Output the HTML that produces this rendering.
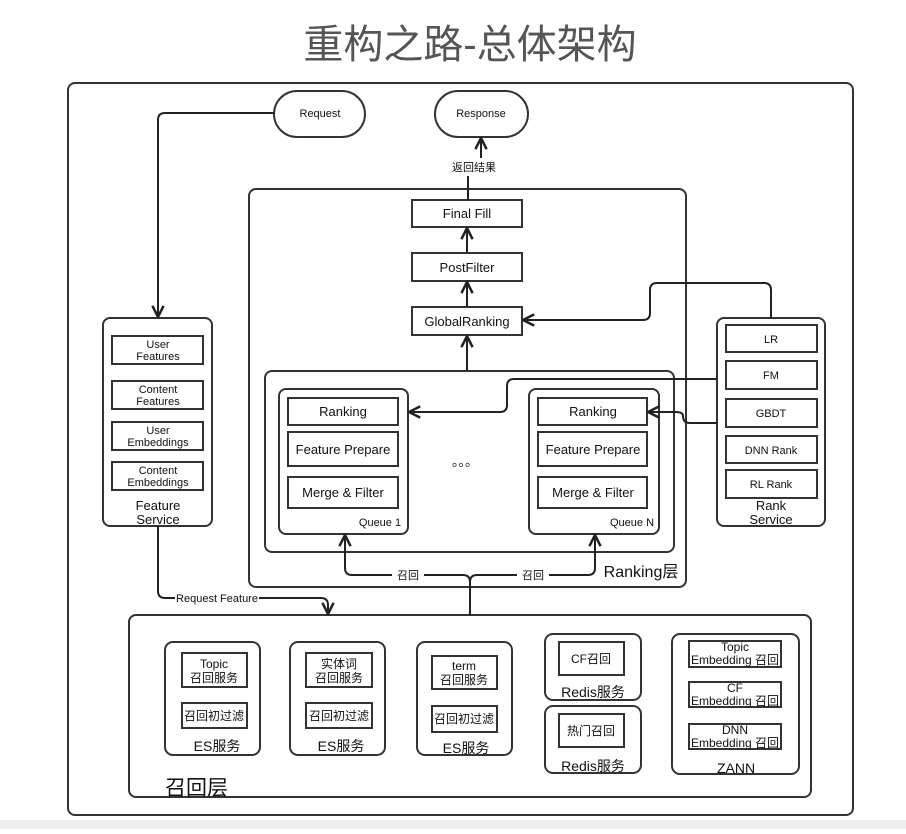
<!DOCTYPE html>
<html><head><meta charset="utf-8"><style>
html,body{margin:0;padding:0;background:#fff;}
svg text{font-family:"Liberation Sans","Noto Sans CJK SC",sans-serif;fill:#111;}
</style></head><body>
<svg width="906" height="829" viewBox="0 0 906 829" xmlns="http://www.w3.org/2000/svg">
<defs>
<marker id="a" viewBox="0 0 10 10" refX="9" refY="5" markerWidth="7" markerHeight="7" orient="auto-start-reverse"><path d="M1,1 L9,5 L1,9" fill="none" stroke="#222" stroke-width="1.8"/></marker>
</defs>
<rect x="0" y="820" width="906" height="9" fill="#eeeeee"/>
<text x="470" y="58" font-size="40" text-anchor="middle" style="fill:#555">重构之路-总体架构</text>
<g fill="none" stroke="#333" stroke-width="2">
<rect x="68" y="83" width="785" height="732" rx="7"/>
<rect x="274" y="91" width="91" height="46" rx="23"/>
<rect x="435" y="91" width="93" height="46" rx="23"/>
<rect x="249" y="189" width="437" height="398" rx="7"/>
<rect x="412" y="200" width="110" height="27"/>
<rect x="412" y="253" width="110" height="28"/>
<rect x="412" y="307" width="110" height="28"/>
<rect x="265" y="371" width="409" height="181" rx="7"/>
<rect x="279" y="389" width="129" height="145" rx="7"/>
<rect x="288" y="398" width="110" height="27"/>
<rect x="288" y="432" width="110" height="34"/>
<rect x="288" y="477" width="110" height="31"/>
<rect x="529" y="389" width="130" height="145" rx="7"/>
<rect x="538" y="398" width="109" height="27"/>
<rect x="538" y="432" width="109" height="34"/>
<rect x="538" y="477" width="109" height="31"/>
<rect x="103" y="318" width="109" height="208" rx="7"/>
<rect x="112" y="336" width="91" height="28"/>
<rect x="112" y="381" width="91" height="28"/>
<rect x="112" y="422" width="91" height="28"/>
<rect x="112" y="462" width="91" height="28"/>
<rect x="717" y="318" width="108" height="208" rx="7"/>
<rect x="726" y="325" width="91" height="27"/>
<rect x="726" y="361" width="91" height="28"/>
<rect x="726" y="399" width="91" height="28"/>
<rect x="726" y="436" width="91" height="27"/>
<rect x="726" y="470" width="91" height="28"/>
<rect x="129" y="615" width="682" height="182" rx="7"/>
<rect x="165" y="642" width="95" height="113" rx="8"/>
<rect x="182" y="653" width="65" height="34"/>
<rect x="182" y="703" width="65" height="25"/>
<rect x="290" y="642" width="95" height="113" rx="8"/>
<rect x="306" y="653" width="66" height="34"/>
<rect x="306" y="703" width="66" height="25"/>
<rect x="417" y="642" width="95" height="113" rx="8"/>
<rect x="432" y="656" width="65" height="33"/>
<rect x="432" y="706" width="65" height="26"/>
<rect x="545" y="634" width="96" height="66" rx="8"/>
<rect x="559" y="642" width="65" height="33"/>
<rect x="545" y="706" width="96" height="67" rx="8"/>
<rect x="559" y="714" width="65" height="33"/>
<rect x="672" y="634" width="127" height="140" rx="8"/>
<rect x="689" y="641" width="92" height="26"/>
<rect x="689" y="682" width="92" height="25"/>
<rect x="689" y="724" width="92" height="25"/>
</g>
<g fill="none" stroke="#222" stroke-width="2">
<path d="M274,113 H165 Q158,113 158,120 V317" marker-end="url(#a)"/>
<path d="M468,200 V176"/>
<path d="M481,158 V138" marker-end="url(#a)"/>
<path d="M467,253 V228" marker-end="url(#a)"/>
<path d="M467,307 V282" marker-end="url(#a)"/>
<path d="M467,371 V336" marker-end="url(#a)"/>
<path d="M771,318 V290 Q771,283 764,283 H657 Q650,283 650,290 V313 Q650,320 643,320 H523" marker-end="url(#a)"/>
<path d="M717,379 H514 Q507,379 507,386 V405 Q507,412 500,412 H409" marker-end="url(#a)"/>
<path d="M717,423 H690 Q683,423 683,416 Q683,412 676,412 H648" marker-end="url(#a)"/>
<path d="M470,615 V582 Q470,575 463,575 H352 Q345,575 345,568 V535" marker-end="url(#a)"/>
<path d="M470,582 Q470,575 477,575 H588 Q595,575 595,568 V535" marker-end="url(#a)"/>
<path d="M158,526 V591 Q158,598 165,598 H321 Q328,598 328,605 V614" marker-end="url(#a)"/>
</g>
<rect x="392" y="568" width="32" height="14" fill="#fff"/>
<rect x="517" y="568" width="32" height="14" fill="#fff"/>
<rect x="175" y="592" width="84" height="12" fill="#fff"/>
<g font-size="11" text-anchor="middle">
<text x="320" y="117">Request</text>
<text x="481" y="117">Response</text>
<text x="474" y="171">返回结果</text>
<text x="408" y="579">召回</text>
<text x="533" y="579">召回</text>
<text x="217" y="602">Request Feature</text>
<text x="158" y="348">User</text><text x="158" y="360">Features</text>
<text x="158" y="393">Content</text><text x="158" y="405">Features</text>
<text x="158" y="434">User</text><text x="158" y="446">Embeddings</text>
<text x="158" y="474">Content</text><text x="158" y="486">Embeddings</text>
<text x="771" y="343">LR</text>
<text x="771" y="379">FM</text>
<text x="771" y="417">GBDT</text>
<text x="771" y="454">DNN Rank</text>
<text x="771" y="488">RL Rank</text>
<text x="380" y="526">Queue 1</text>
<text x="632" y="526">Queue N</text>
</g>
<g font-size="12" text-anchor="middle">
<text x="214" y="668">Topic</text><text x="214" y="682">召回服务</text>
<text x="214" y="720">召回初过滤</text>
<text x="339" y="668">实体词</text><text x="339" y="682">召回服务</text>
<text x="339" y="720">召回初过滤</text>
<text x="464" y="670">term</text><text x="464" y="684">召回服务</text>
<text x="464" y="723">召回初过滤</text>
<text x="591" y="663">CF召回</text>
<text x="591" y="735">热门召回</text>
<text x="735" y="651">Topic</text><text x="735" y="664">Embedding 召回</text>
<text x="735" y="692">CF</text><text x="735" y="705">Embedding 召回</text>
<text x="735" y="734">DNN</text><text x="735" y="747">Embedding 召回</text>
</g>
<g font-size="13" text-anchor="middle">
<text x="467" y="218">Final Fill</text>
<text x="467" y="272">PostFilter</text>
<text x="467" y="326">GlobalRanking</text>
<text x="343" y="416">Ranking</text>
<text x="343" y="454">Feature Prepare</text>
<text x="343" y="497">Merge &amp; Filter</text>
<text x="593" y="416">Ranking</text>
<text x="593" y="454">Feature Prepare</text>
<text x="593" y="497">Merge &amp; Filter</text>
<text x="158" y="510">Feature</text><text x="158" y="524">Service</text>
<text x="771" y="510">Rank</text><text x="771" y="524">Service</text>
<text x="217" y="751" font-size="14">ES服务</text>
<text x="341" y="751" font-size="14">ES服务</text>
<text x="466" y="753" font-size="14">ES服务</text>
<text x="593" y="697" font-size="14">Redis服务</text>
<text x="593" y="771" font-size="14">Redis服务</text>
<text x="736" y="773" font-size="14">ZANN</text>
<text x="465" y="466">。。。</text>
</g>
<text x="641" y="577" font-size="16" text-anchor="middle">Ranking层</text>
<text x="165" y="795" font-size="21">召回层</text>
</svg>
</body></html>
